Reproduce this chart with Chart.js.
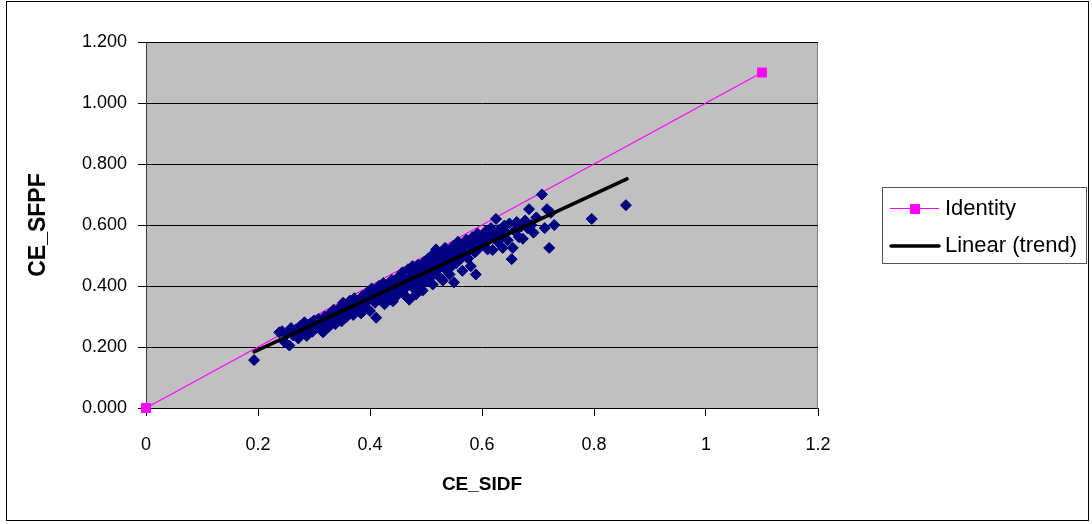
<!DOCTYPE html>
<html>
<head>
<meta charset="utf-8">
<title>CE_SFPF vs CE_SIDF</title>
<script src="https://cdn.jsdelivr.net/npm/chart.js@4.4.1/dist/chart.umd.min.js"></script>
<style>
    html, body { margin: 0; padding: 0; background: #ffffff; }
    canvas { display: block; }
</style>
</head>
<body>
<canvas id="scatterChart" width="1092" height="524"></canvas>
<script>
// القيم المقروءة من الرسم: CE_SIDF (س) و CE_SFPF (ص)
const sidfValues = [
    0.193,
    0.238, 0.243, 0.248, 0.252, 0.256, 0.259, 0.263, 0.268, 0.272, 0.276, 0.279, 0.283, 0.287, 0.290, 0.294, 0.297, 0.300,
    0.304, 0.308, 0.312, 0.316, 0.319, 0.322, 0.326, 0.329, 0.332, 0.335, 0.338, 0.341, 0.344, 0.347, 0.349,
    0.352, 0.355, 0.358, 0.361, 0.364, 0.367, 0.370, 0.372, 0.375, 0.378, 0.381, 0.384, 0.387, 0.389, 0.392, 0.395, 0.398, 0.400,
    0.403, 0.406, 0.409, 0.411, 0.413, 0.416, 0.418, 0.421, 0.424, 0.426, 0.429, 0.431, 0.434, 0.436, 0.439, 0.441, 0.444, 0.446, 0.448,
    0.451, 0.453, 0.456, 0.458, 0.461, 0.463, 0.466, 0.468, 0.470, 0.472, 0.474, 0.476, 0.478, 0.480, 0.482, 0.484, 0.486, 0.488, 0.490, 0.492, 0.494, 0.496, 0.498, 0.500,
    0.502, 0.504, 0.506, 0.508, 0.510, 0.512, 0.514, 0.516, 0.518, 0.520, 0.522, 0.524, 0.526, 0.528, 0.530, 0.532, 0.534, 0.536, 0.538, 0.540, 0.542, 0.544, 0.546, 0.548, 0.550,
    0.552, 0.554, 0.557, 0.560, 0.562, 0.565, 0.567, 0.570, 0.572, 0.575, 0.578, 0.580, 0.583, 0.585, 0.587, 0.589, 0.592, 0.595, 0.598,
    0.601, 0.604, 0.607, 0.610, 0.613, 0.616, 0.619, 0.622, 0.625, 0.628, 0.631, 0.634, 0.637, 0.640, 0.643, 0.646, 0.649,
    0.653, 0.655, 0.658, 0.662, 0.666, 0.670, 0.673, 0.677, 0.681, 0.684, 0.688, 0.692, 0.697,
    0.707, 0.712, 0.716, 0.720, 0.723, 0.729, 0.796, 0.857
];
const sfpfValues = [
    0.157,
    0.248, 0.252, 0.215, 0.243, 0.205, 0.262, 0.238, 0.258, 0.228, 0.270, 0.248, 0.281, 0.236, 0.262, 0.278, 0.250, 0.287,
    0.262, 0.292, 0.270, 0.248, 0.300, 0.282, 0.265, 0.310, 0.290, 0.322, 0.275, 0.305, 0.296, 0.330, 0.284,
    0.345, 0.312, 0.298, 0.335, 0.352, 0.320, 0.305, 0.360, 0.338, 0.325, 0.350, 0.310, 0.368, 0.342, 0.330, 0.378, 0.355, 0.318,
    0.392, 0.362, 0.345, 0.296, 0.380, 0.400, 0.355, 0.370, 0.410, 0.340, 0.388, 0.362, 0.398, 0.375, 0.420, 0.350, 0.392, 0.405, 0.368,
    0.430, 0.385, 0.410, 0.445, 0.372, 0.420, 0.398, 0.455, 0.355, 0.430, 0.410, 0.465, 0.392, 0.440, 0.372, 0.425, 0.470, 0.405, 0.450, 0.430, 0.385, 0.478, 0.440, 0.415,
    0.462, 0.490, 0.425, 0.450, 0.500, 0.405, 0.472, 0.440, 0.520, 0.485, 0.455, 0.430, 0.505, 0.470, 0.418, 0.490, 0.525, 0.452, 0.478, 0.510, 0.438, 0.495, 0.465, 0.530, 0.412,
    0.500, 0.475, 0.545, 0.485, 0.520, 0.450, 0.535, 0.505, 0.552, 0.490, 0.530, 0.465, 0.560, 0.545, 0.510, 0.438, 0.572, 0.525, 0.550,
    0.565, 0.538, 0.580, 0.520, 0.558, 0.590, 0.518, 0.570, 0.620, 0.545, 0.585, 0.560, 0.525, 0.598, 0.575, 0.550, 0.605,
    0.488, 0.525, 0.580, 0.610, 0.560, 0.595, 0.555, 0.615, 0.590, 0.652, 0.600, 0.575, 0.625,
    0.700, 0.590, 0.652, 0.525, 0.640, 0.600, 0.620, 0.665
];

// خط التطابق وخط الاتجاه الخطي
const identityX = [0, 1.1];
const identityY = [0, 1.1];
const trendX = [0.193, 0.859];
const trendY = [0.184, 0.751];

// تسميات المحاور
const xTickLabels = ['0', '0.2', '0.4', '0.6', '0.8', '1', '1.2'];
const yTickLabels = ['0.000', '0.200', '0.400', '0.600', '0.800', '1.000', '1.200'];
const legendLabels = ['Identity', 'Linear (trend)'];

const FONT = "'Liberation Sans', Arial, sans-serif";

function toPoints(xs, ys) {
    return xs.map((x, i) => ({ x: x, y: ys[i] }));
}

// خلفية رمادية لمنطقة الرسم وإطار خارجي ووسيلة إيضاح
const framePlugin = {
    id: 'frame',
    beforeDraw(chart) {
        const ctx = chart.ctx;
        const a = chart.chartArea;
        ctx.save();
        ctx.fillStyle = '#ffffff';
        ctx.fillRect(0, 0, chart.width, chart.height);
        ctx.fillStyle = '#c0c0c0';
        ctx.fillRect(a.left, a.top, a.right - a.left, a.bottom - a.top);
        ctx.strokeStyle = '#808080';
        ctx.lineWidth = 1;
        ctx.strokeRect(a.left + 0.5, a.top + 0.5, a.right - a.left - 1, a.bottom - a.top);
        ctx.restore();
    },
    afterDraw(chart) {
        const ctx = chart.ctx;
        ctx.save();
        // الإطار الخارجي
        ctx.strokeStyle = '#000000';
        ctx.lineWidth = 1;
        ctx.strokeRect(6.5, 1.5, 1082, 519);

        // وسيلة الإيضاح
        ctx.strokeStyle = '#555555';
        ctx.strokeRect(882.5, 187.5, 204, 76);
        ctx.font = '22px ' + FONT;
        ctx.fillStyle = '#000000';
        ctx.textBaseline = 'middle';
        ctx.textAlign = 'left';

        const idSet = chart.data.datasets[2];
        ctx.strokeStyle = idSet.borderColor;
        ctx.lineWidth = 1;
        ctx.beginPath();
        ctx.moveTo(890, 208.5);
        ctx.lineTo(939, 208.5);
        ctx.stroke();
        ctx.fillStyle = idSet.pointBackgroundColor;
        ctx.fillRect(910, 204, 10, 10);
        ctx.fillStyle = '#000000';
        ctx.fillText(legendLabels[0], 945, 209);

        const trSet = chart.data.datasets[0];
        ctx.strokeStyle = trSet.borderColor;
        ctx.lineWidth = 3.5;
        ctx.lineCap = 'round';
        ctx.beginPath();
        ctx.moveTo(891, 246);
        ctx.lineTo(939, 246);
        ctx.stroke();
        ctx.fillText(legendLabels[1], 945, 246);
        ctx.restore();
    }
};

const ctx = document.getElementById('scatterChart').getContext('2d');
const scatterChart = new Chart(ctx, {
    type: 'scatter',
    data: {
        datasets: [
            {
                label: legendLabels[1],
                data: toPoints(trendX, trendY),
                showLine: true,
                borderColor: '#000000',
                borderWidth: 3.5,
                borderCapStyle: 'round',
                pointRadius: 0,
                order: 0
            },
            {
                label: 'CE',
                data: toPoints(sidfValues, sfpfValues),
                pointStyle: 'rectRot',
                pointRadius: 5.5,
                pointBorderWidth: 1,
                pointBackgroundColor: '#000080',
                pointBorderColor: '#000080',
                order: 1
            },
            {
                label: legendLabels[0],
                data: toPoints(identityX, identityY),
                showLine: true,
                clip: false,
                borderColor: '#ff00ff',
                borderWidth: 1.2,
                pointStyle: 'rect',
                pointRadius: 7,
                pointBorderWidth: 0,
                pointBackgroundColor: '#ff00ff',
                pointBorderColor: '#ff00ff',
                order: 2
            }
        ]
    },
    options: {
        responsive: false,
        animation: false,
        layout: {
            padding: { left: 25, right: 274, top: 42, bottom: 28 }
        },
        plugins: {
            legend: { display: false },
            tooltip: { enabled: false }
        },
        scales: {
            x: {
                type: 'linear',
                min: 0,
                max: 1.2,
                afterFit: function(scale) { scale.height = 88; },
                ticks: {
                    stepSize: 0.2,
                    color: '#000000',
                    padding: 18,
                    maxRotation: 0,
                    font: { family: FONT, size: 18 },
                    callback: function(value, index) { return xTickLabels[index]; }
                },
                grid: {
                    drawOnChartArea: false,
                    drawTicks: true,
                    tickLength: 8,
                    color: '#000000'
                },
                border: { display: true, color: '#000000', width: 1 },
                title: {
                    display: true,
                    text: 'CE_SIDF',
                    color: '#000000',
                    padding: 0,
                    font: { family: FONT, size: 19, weight: 'bold' }
                }
            },
            y: {
                type: 'linear',
                min: 0,
                max: 1.2,
                afterFit: function(scale) { scale.width = 121; },
                ticks: {
                    stepSize: 0.2,
                    color: '#000000',
                    padding: 11,
                    font: { family: FONT, size: 18 },
                    callback: function(value, index) { return yTickLabels[index]; }
                },
                grid: {
                    drawOnChartArea: true,
                    drawTicks: true,
                    tickLength: 8,
                    color: '#000000'
                },
                border: { display: true, color: '#404040', width: 1 },
                title: {
                    display: true,
                    text: 'CE_SFPF',
                    color: '#000000',
                    padding: 0,
                    font: { family: FONT, size: 23, weight: 'bold' }
                }
            }
        }
    },
    plugins: [framePlugin]
});
</script>
</body>
</html>
